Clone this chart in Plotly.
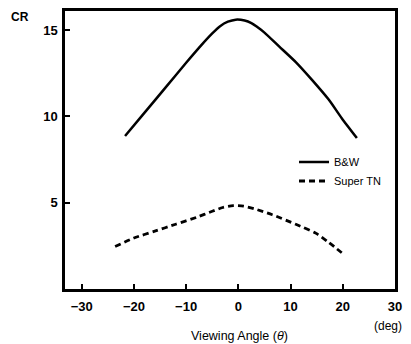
import plotly.graph_objects as go

bw_angle = [-21.7, -18.0, -14.0, -10.0, -7.0, -5.0, -3.5, -2.0, -0.5, 1.2, 2.5, 3.5, 5.0, 7.8, 11.0, 14.1, 17.3, 19.8, 22.7]
bw_cr = [8.86, 10.2, 11.65, 13.1, 14.15, 14.8, 15.22, 15.48, 15.6, 15.55, 15.4, 15.2, 14.85, 14.05, 13.14, 12.11, 10.97, 9.89, 8.74]

tn_angle = [-23.6, -20.0, -16.0, -12.0, -8.0, -5.0, -3.0, -1.0, 1.0, 3.0, 6.5, 11.0, 14.9, 17.3, 19.8]
tn_cr = [2.46, 2.95, 3.35, 3.75, 4.15, 4.5, 4.72, 4.83, 4.8, 4.65, 4.3, 3.75, 3.22, 2.7, 2.1]

x_ticks = [-30, -20, -10, 0, 10, 20, 30]
y_ticks = [5, 10, 15]

fnt = "Liberation Sans, Arial, sans-serif"

fig = go.Figure()
fig.add_trace(go.Scatter(x=bw_angle, y=bw_cr, mode="lines", name="B&W",
                         line=dict(color="black", width=2.5, shape="spline", smoothing=0.6)))
fig.add_trace(go.Scatter(x=tn_angle, y=tn_cr, mode="lines", name="Super TN",
                         line=dict(color="black", width=2.8, dash="6px,4px", shape="spline", smoothing=0.6)))

axis_common = dict(showgrid=False, zeroline=False, showline=True, linecolor="black", linewidth=2.5,
                   mirror=True, ticks="inside", ticklen=5, tickwidth=2, tickcolor="black",
                   tickfont=dict(family=fnt, size=13, color="black", weight="bold"))

fig.update_xaxes(range=[-33.2, 30], tickvals=x_ticks,
                 ticktext=[str(v) if v >= 0 else "\u2212" + str(-v) for v in x_ticks],
                 ticklabelstandoff=4, **axis_common)
fig.update_yaxes(range=[0, 16.1], tickvals=y_ticks, ticklabelstandoff=2, **axis_common)

fig.update_layout(
    width=403, height=336,
    margin=dict(l=57, r=16, t=0, b=55),
    plot_bgcolor="white", paper_bgcolor="white",
    font=dict(family=fnt, color="black"),
    showlegend=True,
    legend=dict(x=0.694, y=0.509, xanchor="left", yanchor="top", bgcolor="rgba(0,0,0,0)",
                font=dict(size=11, family=fnt), tracegroupgap=0, itemwidth=30),
    annotations=[
        dict(text="CR", x=-0.136, y=1.0, xref="paper", yref="paper", showarrow=False,
             xanchor="center", yanchor="middle", yshift=-6,
             font=dict(size=12, family=fnt, weight="bold")),
        dict(text="Viewing Angle (<i>θ</i>)", x=0.53, y=0, xref="paper", yref="paper", showarrow=False,
             xanchor="center", yanchor="middle", yshift=-47, font=dict(size=12.5, family=fnt)),
        dict(text="(deg)", x=1, y=0, xref="paper", yref="paper", showarrow=False,
             xanchor="center", yanchor="middle", yshift=-37, xshift=-7, font=dict(size=12, family=fnt)),
    ],
)

fig.write_html("out.html")
